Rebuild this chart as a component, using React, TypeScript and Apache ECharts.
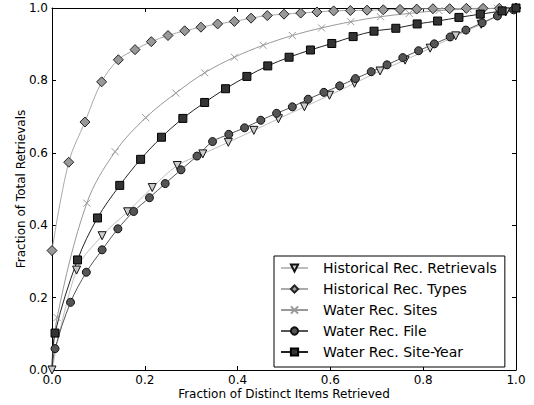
import React, { useEffect, useRef } from "react";
import * as echarts from "echarts";

const seriesNames = [
  "Historical Rec. Retrievals",
  "Historical Rec. Types",
  "Water Rec. Sites",
  "Water Rec. File",
  "Water Rec. Site-Year",
];

const retrievalsX = [0, 0.053, 0.108, 0.163, 0.216, 0.27, 0.325, 0.38, 0.435, 0.488, 0.544, 0.598, 0.652, 0.707, 0.761, 0.815, 0.87, 0.925, 0.978, 1.0];
const retrievalsY = [0, 0.276, 0.371, 0.437, 0.504, 0.565, 0.597, 0.629, 0.662, 0.694, 0.727, 0.759, 0.792, 0.826, 0.856, 0.889, 0.923, 0.955, 0.989, 1.0];

const typesX = [0, 0.036, 0.071, 0.107, 0.143, 0.179, 0.214, 0.25, 0.286, 0.321, 0.357, 0.393, 0.429, 0.464, 0.5, 0.536, 0.571, 0.607, 0.643, 0.679, 0.714, 0.75, 0.786, 0.821, 0.857, 0.893, 0.929, 0.964, 1.0];
const typesY = [0.33, 0.574, 0.685, 0.796, 0.857, 0.885, 0.907, 0.924, 0.937, 0.947, 0.956, 0.963, 0.972, 0.979, 0.983, 0.986, 0.989, 0.992, 0.993, 0.994, 0.995, 0.996, 0.997, 0.998, 0.998, 0.999, 0.999, 0.999, 1.0];

const sitesX = [0, 0.011, 0.075, 0.136, 0.202, 0.267, 0.329, 0.393, 0.455, 0.518, 0.581, 0.644, 0.708, 0.77, 0.834, 0.897, 0.96, 1.0];
const sitesY = [0, 0.145, 0.461, 0.603, 0.697, 0.765, 0.821, 0.864, 0.897, 0.924, 0.945, 0.962, 0.976, 0.985, 0.993, 0.997, 0.999, 1.0];

const fileX = [0, 0.0065, 0.04, 0.074, 0.108, 0.142, 0.176, 0.21, 0.244, 0.278, 0.3125, 0.346, 0.381, 0.415, 0.45, 0.484, 0.518, 0.552, 0.586, 0.62, 0.654, 0.688, 0.722, 0.756, 0.79, 0.824, 0.858, 0.892, 0.927, 0.96, 0.995];
const fileY = [0, 0.059, 0.187, 0.27, 0.332, 0.39, 0.438, 0.476, 0.515, 0.553, 0.591, 0.631, 0.651, 0.669, 0.69, 0.709, 0.727, 0.748, 0.767, 0.785, 0.805, 0.824, 0.843, 0.863, 0.882, 0.901, 0.92, 0.939, 0.959, 0.978, 0.995];

const siteYearX = [0, 0.0065, 0.055, 0.098, 0.146, 0.191, 0.236, 0.282, 0.329, 0.374, 0.42, 0.465, 0.511, 0.557, 0.603, 0.649, 0.694, 0.741, 0.787, 0.831, 0.877, 0.923, 0.97, 1.0];
const siteYearY = [0, 0.102, 0.304, 0.42, 0.51, 0.582, 0.643, 0.695, 0.739, 0.777, 0.811, 0.84, 0.864, 0.884, 0.902, 0.921, 0.936, 0.944, 0.956, 0.964, 0.974, 0.983, 0.992, 1.0];

const FONT = "DejaVu Sans";

function pts(xs: number[], ys: number[], hideFirst: boolean, hideLast: boolean) {
  return xs.map((x, i) => {
    const hide = (hideFirst && i === 0) || (hideLast && i === xs.length - 1);
    return hide ? { value: [x, ys[i]], symbol: "none" } : { value: [x, ys[i]] };
  });
}

export default function App() {
  const ref = useRef<HTMLDivElement>(null);
  useEffect(() => {
    if (!ref.current) return;
    const chart = echarts.init(ref.current, null, { renderer: "svg" });
    const axisCommon = {
      type: "value" as const,
      min: 0,
      max: 1,
      interval: 0.2,
      splitLine: { show: false },
      axisLine: { show: true, onZero: false, lineStyle: { color: "#000", width: 1 } },
      axisTick: { show: true, inside: true, length: 4, lineStyle: { color: "#000" } },
    };
    const labelCommon = {
      color: "#000",
      fontFamily: FONT,
      fontSize: 12,
      margin: 4,
      formatter: (v: number) => v.toFixed(1),
    };
    const base = {
      type: "line" as const,
      smooth: 0.35,
      clip: false,
      xAxisIndex: 0,
      yAxisIndex: 0,
    };
    const option = {
      animation: false,
      backgroundColor: "#fff",
      grid: { left: 52, right: 18, top: 8, bottom: 35, containLabel: false },
      xAxis: [
        {
          ...axisCommon,
          position: "bottom",
          name: "Fraction of Distinct Items Retrieved",
          nameLocation: "middle",
          nameGap: 18,
          nameMoveOverlap: false,
          nameTextStyle: { color: "#000", fontFamily: FONT, fontSize: 12 },
          axisLabel: labelCommon,
        },
        { ...axisCommon, position: "top", axisLabel: { show: false } },
      ],
      yAxis: [
        {
          ...axisCommon,
          position: "left",
          name: "Fraction of Total Retrievals",
          nameLocation: "middle",
          nameGap: 25,
          nameMoveOverlap: false,
          nameTextStyle: { color: "#000", fontFamily: FONT, fontSize: 12 },
          axisLabel: labelCommon,
        },
        { ...axisCommon, position: "right", axisLabel: { show: false } },
      ],
      legend: {
        orient: "vertical",
        left: 274,
        top: 256,
        padding: [5, 8, 8, 6],
        itemGap: 7,
        itemWidth: 27,
        itemHeight: 9,
        backgroundColor: "#fff",
        borderColor: "#000",
        borderWidth: 1,
        borderRadius: 0,
        textStyle: { color: "#000", fontFamily: FONT, fontSize: 14, padding: [0, 0, 0, 10], lineHeight: 14 },
        data: seriesNames,
      },
      series: [
        {
          ...base,
          name: seriesNames[0],
          data: pts(retrievalsX, retrievalsY, false, true),
          symbol: "triangle",
          symbolRotate: 180,
          symbolSize: 8,
          lineStyle: { color: "#bdbdbd", width: 1 },
          itemStyle: { color: "#cccccc", borderColor: "#111", borderWidth: 1 },
        },
        {
          ...base,
          name: seriesNames[1],
          data: pts(typesX, typesY, false, false),
          symbol: "diamond",
          symbolSize: 10,
          lineStyle: { color: "#aaaaaa", width: 1 },
          itemStyle: { color: "#999999", borderColor: "#222", borderWidth: 1 },
        },
        {
          ...base,
          name: seriesNames[2],
          data: pts(sitesX, sitesY, true, true),
          symbol: "path://M0,0L10,10M10,0L0,10",
          symbolSize: 7,
          lineStyle: { color: "#999999", width: 1 },
          itemStyle: { color: "#999999", borderColor: "#999999", borderWidth: 1 },
        },
        {
          ...base,
          name: seriesNames[3],
          data: pts(fileX, fileY, true, false),
          symbol: "circle",
          symbolSize: 8,
          lineStyle: { color: "#555555", width: 1 },
          itemStyle: { color: "#555555", borderColor: "#111", borderWidth: 1 },
        },
        {
          ...base,
          name: seriesNames[4],
          data: pts(siteYearX, siteYearY, true, false),
          symbol: "rect",
          symbolSize: 8,
          lineStyle: { color: "#222222", width: 1 },
          itemStyle: { color: "#333333", borderColor: "#000", borderWidth: 1 },
        },
      ],
    };
    chart.setOption(option as any);
    return () => chart.dispose();
  }, []);
  return (
    <div
      ref={ref}
      style={{ position: "fixed", left: 0, top: 0, width: 534, height: 405 }}
    />
  );
}
